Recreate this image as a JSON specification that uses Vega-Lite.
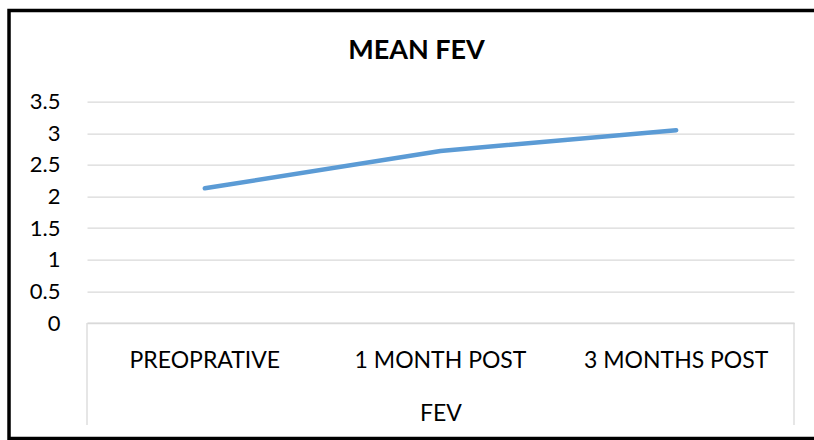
{
  "$schema": "https://vega.github.io/schema/vega-lite/v6.json",
  "width": 707,
  "height": 221.3,
  "autosize": "none",
  "padding": {"left": 87, "top": 101.7, "right": 20, "bottom": 117},
  "background": "white",
  "config": {"font": "Lato", "view": {"stroke": null}},
  "title": {"text": "MEAN FEV", "fontSize": 27, "fontWeight": "bold", "font": "Lato", "color": "#000000", "anchor": "middle", "dx": -24, "offset": -77, "baseline": "alphabetic"},
  "data": {"values": [
    {"stage": "PREOPRATIVE", "fev": 2.13},
    {"stage": "1 MONTH POST", "fev": 2.72},
    {"stage": "3 MONTHS POST", "fev": 3.05}
  ]},
  "resolve": {"scale": {"x": "independent"}, "axis": {"x": "independent"}},
  "layer": [
    {
      "mark": {"type": "line", "color": "#5b9bd5", "strokeWidth": 4.5, "strokeCap": "round", "strokeJoin": "round"},
      "encoding": {
        "x": {
          "field": "stage", "type": "nominal", "bandPosition": 0.5,
          "scale": {"type": "band", "domain": ["PREOPRATIVE", "1 MONTH POST", "3 MONTHS POST"], "paddingInner": 0, "paddingOuter": 0},
          "axis": {"title": "FEV", "titleFontSize": 23, "titleFontWeight": "normal", "titleColor": "#000000", "titleBaseline": "alphabetic", "titlePadding": 48,
                   "labelAngle": 0, "labelFontSize": 23, "labelColor": "#000000", "labelBaseline": "alphabetic", "labelPadding": 44, "labelLimit": 0,
                   "ticks": false, "tickSize": 0, "domain": true, "domainColor": "#d9d9d9", "domainWidth": 1.3, "grid": false}
        },
        "y": {
          "field": "fev", "type": "quantitative",
          "scale": {"domain": [0, 3.5], "nice": false},
          "axis": {"title": null, "values": [0, 0.5, 1, 1.5, 2, 2.5, 3, 3.5], "format": "~g", "grid": true, "gridColor": "#d9d9d9", "gridWidth": 1.3,
                   "domain": false, "ticks": false, "tickSize": 0, "labelFontSize": 22, "labelColor": "#000000", "labelPadding": 27, "labelOverlap": false}
        }
      }
    },
    {
      "data": {"values": [{}]},
      "mark": {"type": "rect", "stroke": "#000000", "strokeWidth": 3.5, "fillOpacity": 0, "fill": "white"},
      "encoding": {
        "x": {"datum": -0.1103, "type": "quantitative", "scale": {"domain": [0, 1], "nice": false, "zero": false}, "axis": null},
        "x2": {"datum": 1.06},
        "y": {"datum": 4.942, "type": "quantitative", "scale": {"domain": [0, 3.5], "nice": false},
              "axis": {"title": null, "values": [0, 0.5, 1, 1.5, 2, 2.5, 3, 3.5], "format": "~g", "grid": true, "gridColor": "#d9d9d9", "gridWidth": 1.3,
                   "domain": false, "ticks": false, "tickSize": 0, "labelFontSize": 22, "labelColor": "#000000", "labelPadding": 27, "labelOverlap": false}},
        "y2": {"datum": -1.827}
      }
    },
    {
      "data": {"values": [{}]},
      "mark": {"type": "rule", "color": "#d9d9d9", "strokeWidth": 1.3},
      "encoding": {
        "x": {"datum": "PREOPRATIVE", "type": "nominal", "bandPosition": 0, "scale": {"type": "band", "domain": ["PREOPRATIVE", "1 MONTH POST", "3 MONTHS POST"], "paddingInner": 0, "paddingOuter": 0}, "axis": null},
        "y": {"datum": 0, "type": "quantitative", "scale": {"domain": [0, 3.5], "nice": false},
              "axis": {"title": null, "values": [0, 0.5, 1, 1.5, 2, 2.5, 3, 3.5], "format": "~g", "grid": true, "gridColor": "#d9d9d9", "gridWidth": 1.3,
                   "domain": false, "ticks": false, "tickSize": 0, "labelFontSize": 22, "labelColor": "#000000", "labelPadding": 27, "labelOverlap": false}},
        "y2": {"datum": -1.613}
      }
    },
    {
      "data": {"values": [{}]},
      "mark": {"type": "rule", "color": "#d9d9d9", "strokeWidth": 1.3},
      "encoding": {
        "x": {"datum": "3 MONTHS POST", "type": "nominal", "bandPosition": 1, "scale": {"type": "band", "domain": ["PREOPRATIVE", "1 MONTH POST", "3 MONTHS POST"], "paddingInner": 0, "paddingOuter": 0}, "axis": null},
        "y": {"datum": 0, "type": "quantitative", "scale": {"domain": [0, 3.5], "nice": false},
              "axis": {"title": null, "values": [0, 0.5, 1, 1.5, 2, 2.5, 3, 3.5], "format": "~g", "grid": true, "gridColor": "#d9d9d9", "gridWidth": 1.3,
                   "domain": false, "ticks": false, "tickSize": 0, "labelFontSize": 22, "labelColor": "#000000", "labelPadding": 27, "labelOverlap": false}},
        "y2": {"datum": -1.613}
      }
    }
  ]
}
